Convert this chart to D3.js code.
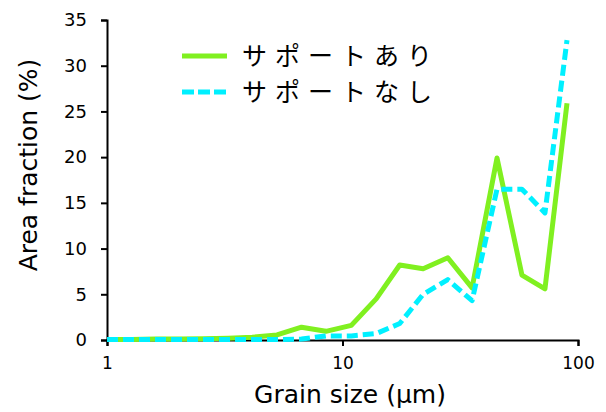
<!DOCTYPE html>
<html>
<head>
<meta charset="utf-8">
<script src="https://cdn.jsdelivr.net/npm/d3@7"></script>
<style>
  body { margin: 0; background: #fff; }
  text { font-family: "DejaVu Sans", sans-serif; fill: #000; }
</style>
</head>
<body>
<svg id="chart" width="606" height="412"></svg>
<script>
// grain size bins (µm) and area fractions (%)
const grainSize = [1.0, 1.27, 1.61, 2.03, 2.58, 3.27, 4.14, 5.27, 6.7, 8.5,
                   10.9, 13.9, 17.5, 22.0, 28.0, 35.5, 45.3, 57.8, 72.4, 89.8];
const withSupport = [0.05, 0.05, 0.1, 0.1, 0.15, 0.2, 0.3, 0.55, 1.4, 0.95,
                     1.6, 4.5, 8.2, 7.8, 9.0, 5.7, 19.9, 7.1, 5.6, 25.9];
const withoutSupport = [0.05, 0.05, 0.05, 0.05, 0.05, 0.05, 0.05, 0.05, 0.1, 0.45,
                        0.45, 0.7, 1.8, 5.0, 6.6, 4.3, 16.5, 16.5, 13.9, 32.8];
const seriesNames = ["サポートあり", "サポートなし"];
const seriesColors = ["#80f020", "#00f0ff"];
const xTicks = [1, 10, 100];
const yTicks = [0, 5, 10, 15, 20, 25, 30, 35];

const svg = d3.select("#chart");
const margin = {left: 107, right: 28, top: 20, bottom: 72};
const width = 606 - margin.left - margin.right;
const height = 412 - margin.top - margin.bottom;

const g = svg.append("g")
  .attr("transform", `translate(${margin.left}, ${margin.top})`);

let xScale = d3.scaleLog()
  .domain([1, 100])
  .range([0, width]);

let yScale = d3.scaleLinear()
  .domain([0, 35])
  .range([height, 0]);

// axes
let xAxis = d3.axisBottom(xScale)
  .tickValues(xTicks)
  .tickFormat(d3.format("d"))
  .tickSizeOuter(0)
  .tickSize(6)
  .tickPadding(11);

let yAxis = d3.axisLeft(yScale)
  .tickValues(yTicks)
  .tickSizeOuter(0)
  .tickSize(6)
  .tickPadding(14);

const gx = g.append("g")
  .attr("transform", `translate(0, ${height})`)
  .call(xAxis);
gx.selectAll("text").style("font-size", "17px");

const gy = g.append("g").call(yAxis);
gy.selectAll("text").style("font-size", "18px");

g.selectAll(".domain, .tick line")
  .attr("stroke", "#000")
  .attr("stroke-width", 2);

// axis titles
svg.append("text")
  .attr("x", 350)
  .attr("y", 403)
  .attr("text-anchor", "middle")
  .style("font-size", "25px")
  .text("Grain size (µm)");

svg.append("text")
  .attr("transform", "translate(28, 165) rotate(-90)")
  .attr("text-anchor", "middle")
  .attr("dy", "0.36em")
  .style("font-size", "25px")
  .text("Area fraction (%)");

// lines
const line = d3.line()
  .x((d, i) => xScale(grainSize[i]))
  .y(d => yScale(d));

const allSeries = [withSupport, withoutSupport];
const dashes = [null, "11,5"];

g.selectAll("path.series")
  .data(allSeries)
  .enter()
  .append("path")
  .attr("class", "series")
  .attr("d", d => line(d))
  .attr("fill", "none")
  .attr("stroke", (d, i) => seriesColors[i])
  .attr("stroke-width", 5)
  .attr("stroke-linejoin", "round")
  .attr("stroke-dasharray", (d, i) => dashes[i]);

// legend
const legend = svg.append("g").attr("transform", "translate(182, 56)");
const items = legend.selectAll("g")
  .data(seriesNames)
  .enter()
  .append("g")
  .attr("transform", (d, i) => `translate(0, ${i * 36})`);

items.append("line")
  .attr("x1", 0).attr("x2", 45)
  .attr("stroke", (d, i) => seriesColors[i])
  .attr("stroke-width", 5)
  .attr("stroke-dasharray", (d, i) => dashes[i] ? "12,4" : null);

items.append("text")
  .attr("x", 60)
  .attr("dy", "0.36em")
  .style("font-family", "'Noto Sans CJK JP', sans-serif")
  .style("font-size", "25px")
  .style("letter-spacing", "8px")
  .text(d => d);
</script>
</body>
</html>
